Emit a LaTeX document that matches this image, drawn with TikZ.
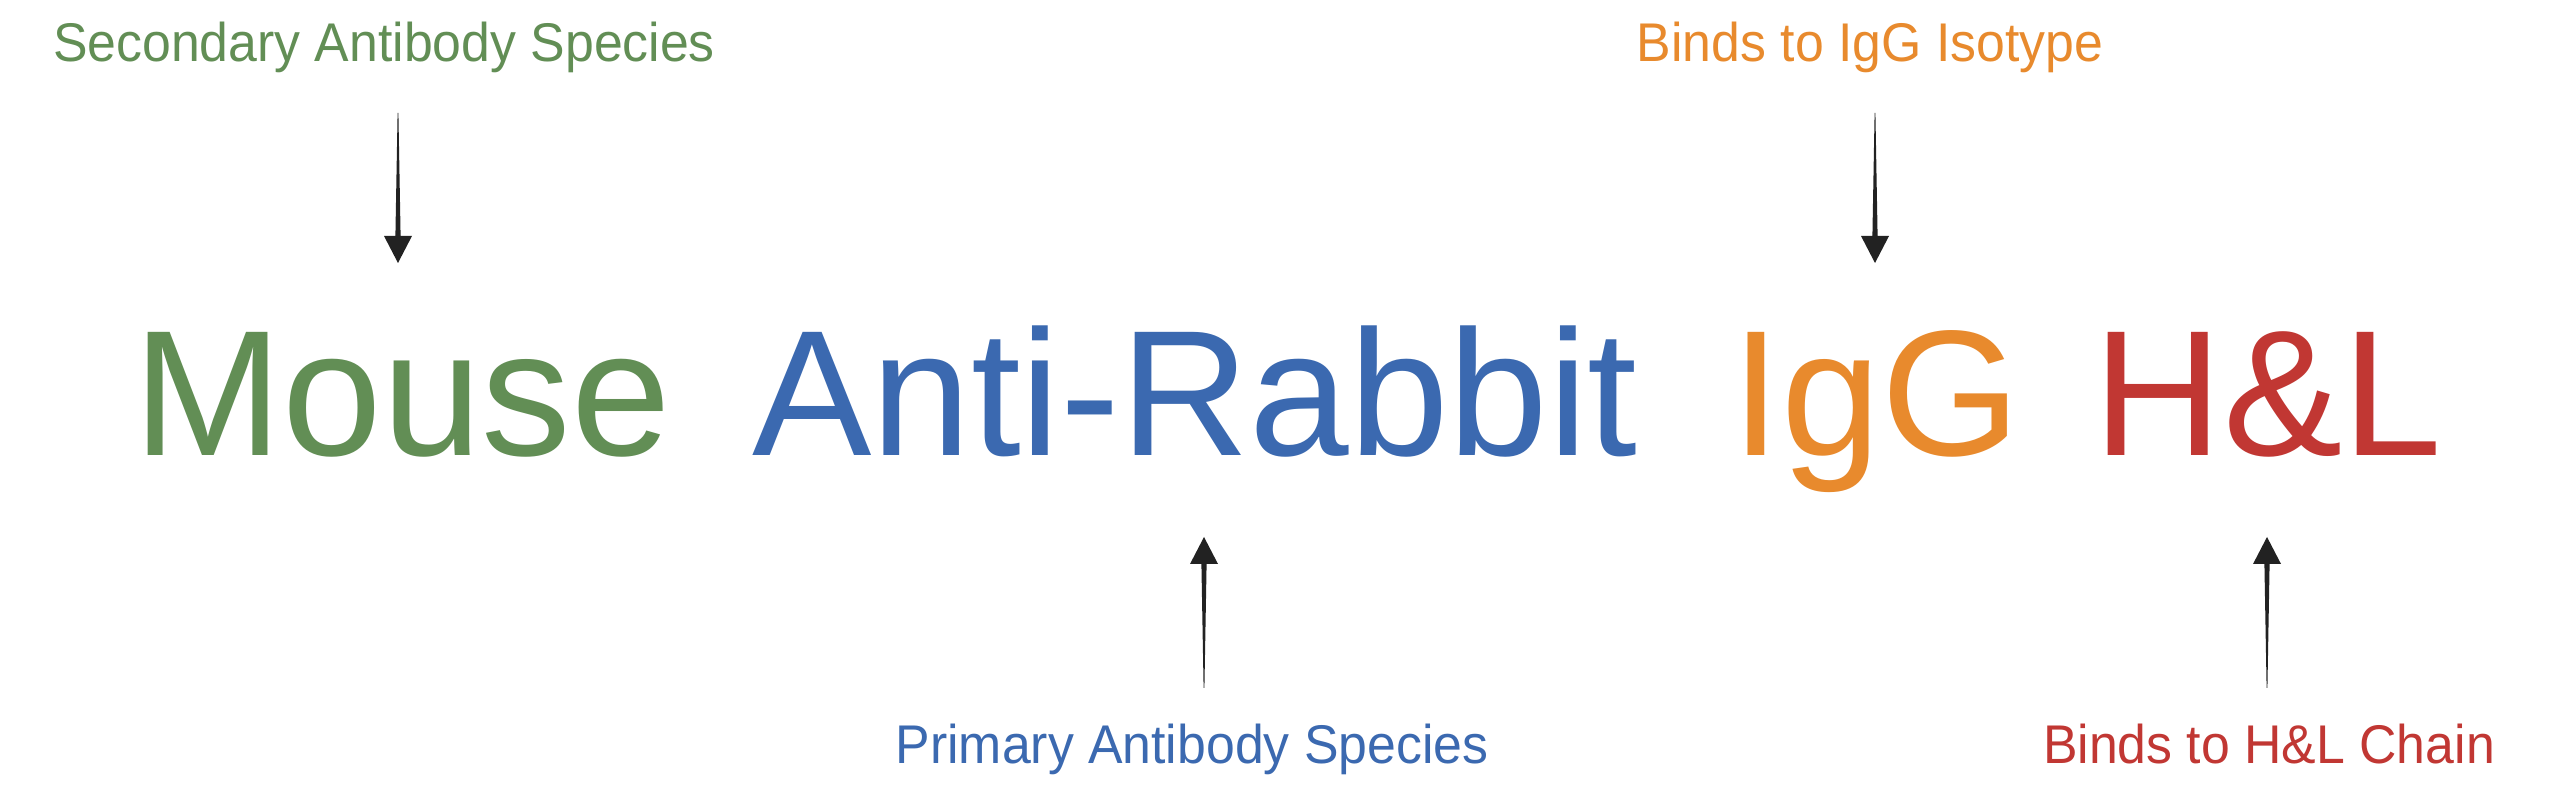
\documentclass[tikz,border=0pt]{standalone}
\usepackage{fontspec}
\setmainfont{Liberation Sans}
\newfontfamily\labelfont[FakeStretch=0.95]{Liberation Sans}
\usetikzlibrary{calc}
\definecolor{cgreen}{HTML}{628E55}
\definecolor{cblue}{HTML}{3B69B0}
\definecolor{corange}{HTML}{E88A2D}
\definecolor{cred}{HTML}{C13733}
\definecolor{carrow}{HTML}{222222}
\newcommand\tparrow[2]{%
  \fill[carrow] ($(#1)+(-0.4,0)$) -- ($($(#2)!27pt!(#1)$)+(-2.6,0)$)
    -- ($($(#2)!27pt!(#1)$)+(-14,0)$) -- (#2)
    -- ($($(#2)!27pt!(#1)$)+(14,0)$) -- ($($(#2)!27pt!(#1)$)+(2.6,0)$)
    -- ($(#1)+(0.4,0)$) -- cycle;}
\tikzset{
  big/.style={anchor=base, inner sep=0pt, font=\fontsize{179}{179}\selectfont},
  small/.style={anchor=base, inner sep=0pt, font=\labelfont\fontsize{54.5}{54.5}\selectfont},
}
\begin{document}
\begin{tikzpicture}[x=1pt,y=1pt]
\useasboundingbox[fill=white] (0,0) rectangle (2560,808);
% main words
\node[big, text=cgreen]  (mouse) at (402,352) {Mouse};
\node[big, text=cblue]   (anti)  at (1195,352) {Anti-Rabbit};
\node[big, text=corange] (igg)   at (1876,352) {IgG};
\node[big, text=cred]    (hl)    at (2268,352) {H\&L};
% labels
\node[small, text=cgreen]  (sec)  at (384,746) {Secondary Antibody Species};
\node[small, text=corange] (iso)  at (1870,746) {Binds to IgG Isotype};
\node[small, text=cblue]   (pri)  at (1192,44) {Primary Antibody Species};
\node[small, text=cred]    (chn)  at (2269,44) {Binds to H\&L Chain};
% arrow end points
\coordinate (a1s) at (398,695);
\coordinate (a1e) at (398,545);
\coordinate (a2s) at (1875,695);
\coordinate (a2e) at (1875,545);
\coordinate (a3s) at (1204,120);
\coordinate (a3e) at (1204,271);
\coordinate (a4s) at (2267,120);
\coordinate (a4e) at (2267,271);
\tparrow{a1s}{a1e}
\tparrow{a2s}{a2e}
\tparrow{a3s}{a3e}
\tparrow{a4s}{a4e}
\end{tikzpicture}
\end{document}
